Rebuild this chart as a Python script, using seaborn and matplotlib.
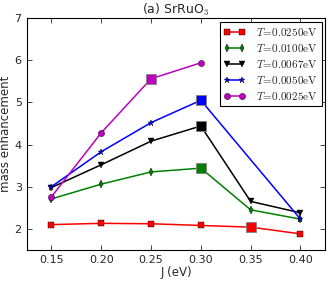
import matplotlib
matplotlib.use("Agg")
import matplotlib.pyplot as plt
import seaborn as sns
import pandas as pd

J = [0.15, 0.20, 0.25, 0.30, 0.35, 0.40]
J_blue = [0.15, 0.20, 0.25, 0.30, 0.40]
J_mag = [0.15, 0.20, 0.25, 0.30]

m_0250 = [2.10, 2.13, 2.12, 2.08, 2.04, 1.88]
m_0100 = [2.71, 3.06, 3.35, 3.44, 2.45, 2.23]
m_0067 = [2.98, 3.52, 4.08, 4.44, 2.65, 2.38]
m_0050 = [3.00, 3.83, 4.52, 5.05, 2.23]
m_0025 = [2.76, 4.28, 5.56, 5.94]

labels = ["0.0250", "0.0100", "0.0067", "0.0050", "0.0025"]

# highlighted (large square) points
hl_J = [0.35, 0.30, 0.30, 0.30, 0.25]
hl_m = [2.04, 3.44, 4.44, 5.05, 5.56]

sns.set_style("ticks")
plt.rcParams.update({
    "font.family": ["DejaVu Sans"],
    "mathtext.fontset": "cm",
    "xtick.direction": "in",
    "ytick.direction": "in",
    "xtick.top": True,
    "ytick.right": True,
    "axes.edgecolor": "black",
    "axes.linewidth": 0.8,
})

fig, ax = plt.subplots(figsize=(3.32, 2.83), dpi=100)
fig.subplots_adjust(left=0.08, right=0.98, top=0.936, bottom=0.117)

series = [(J, m_0250, "r", "s", 4), (J, m_0100, "g", "d", 4),
          (J, m_0067, "k", "v", 4.5), (J_blue, m_0050, "b", "*", 4.5),
          (J_mag, m_0025, "m", "o", 4.5)]
for (x, y, c, mk, ms), lab in zip(series, labels):
    df = pd.DataFrame({"J": x, "m": y})
    sns.lineplot(data=df, x="J", y="m", ax=ax, color=c, marker=mk,
                 markersize=ms, markeredgecolor="k", markeredgewidth=0.3,
                 linewidth=1.1, label=r"$T\!=\!%s\mathrm{eV}$" % lab)

hl_colors = ["r", "g", "k", "b", "m"]
for x, y, c in zip(hl_J, hl_m, hl_colors):
    ax.plot([x], [y], marker="s", color=c, markersize=7.5,
            markeredgecolor="0.5", markeredgewidth=0.6, linestyle="none")

ax.set_xlim(0.125, 0.425)
ax.set_ylim(1.5, 7)
ax.set_xticks([0.15, 0.20, 0.25, 0.30, 0.35, 0.40])
ax.set_xticklabels(["0.15", "0.20", "0.25", "0.30", "0.35", "0.40"])
ax.set_yticks([2, 3, 4, 5, 6, 7])
ax.tick_params(labelsize=8, length=3.5, width=0.6)
ax.set_xlabel("J (eV)", fontsize=8.5, labelpad=1)
ax.set_ylabel("mass enhancement", fontsize=8.5, labelpad=2)
ax.set_title(r"(a) SrRuO$_3$", fontsize=9, pad=2)
for s in ax.spines.values():
    s.set_visible(True)

leg = ax.legend(loc="upper right", fontsize=8, frameon=True, fancybox=False,
                edgecolor="black", framealpha=1, handlelength=1.9,
                numpoints=2, borderpad=0.4, labelspacing=0.35,
                handletextpad=1.0, borderaxespad=0,
                bbox_to_anchor=(0.99, 0.985))
leg.get_frame().set_linewidth(0.8)

fig.savefig("out.png", dpi=100)
